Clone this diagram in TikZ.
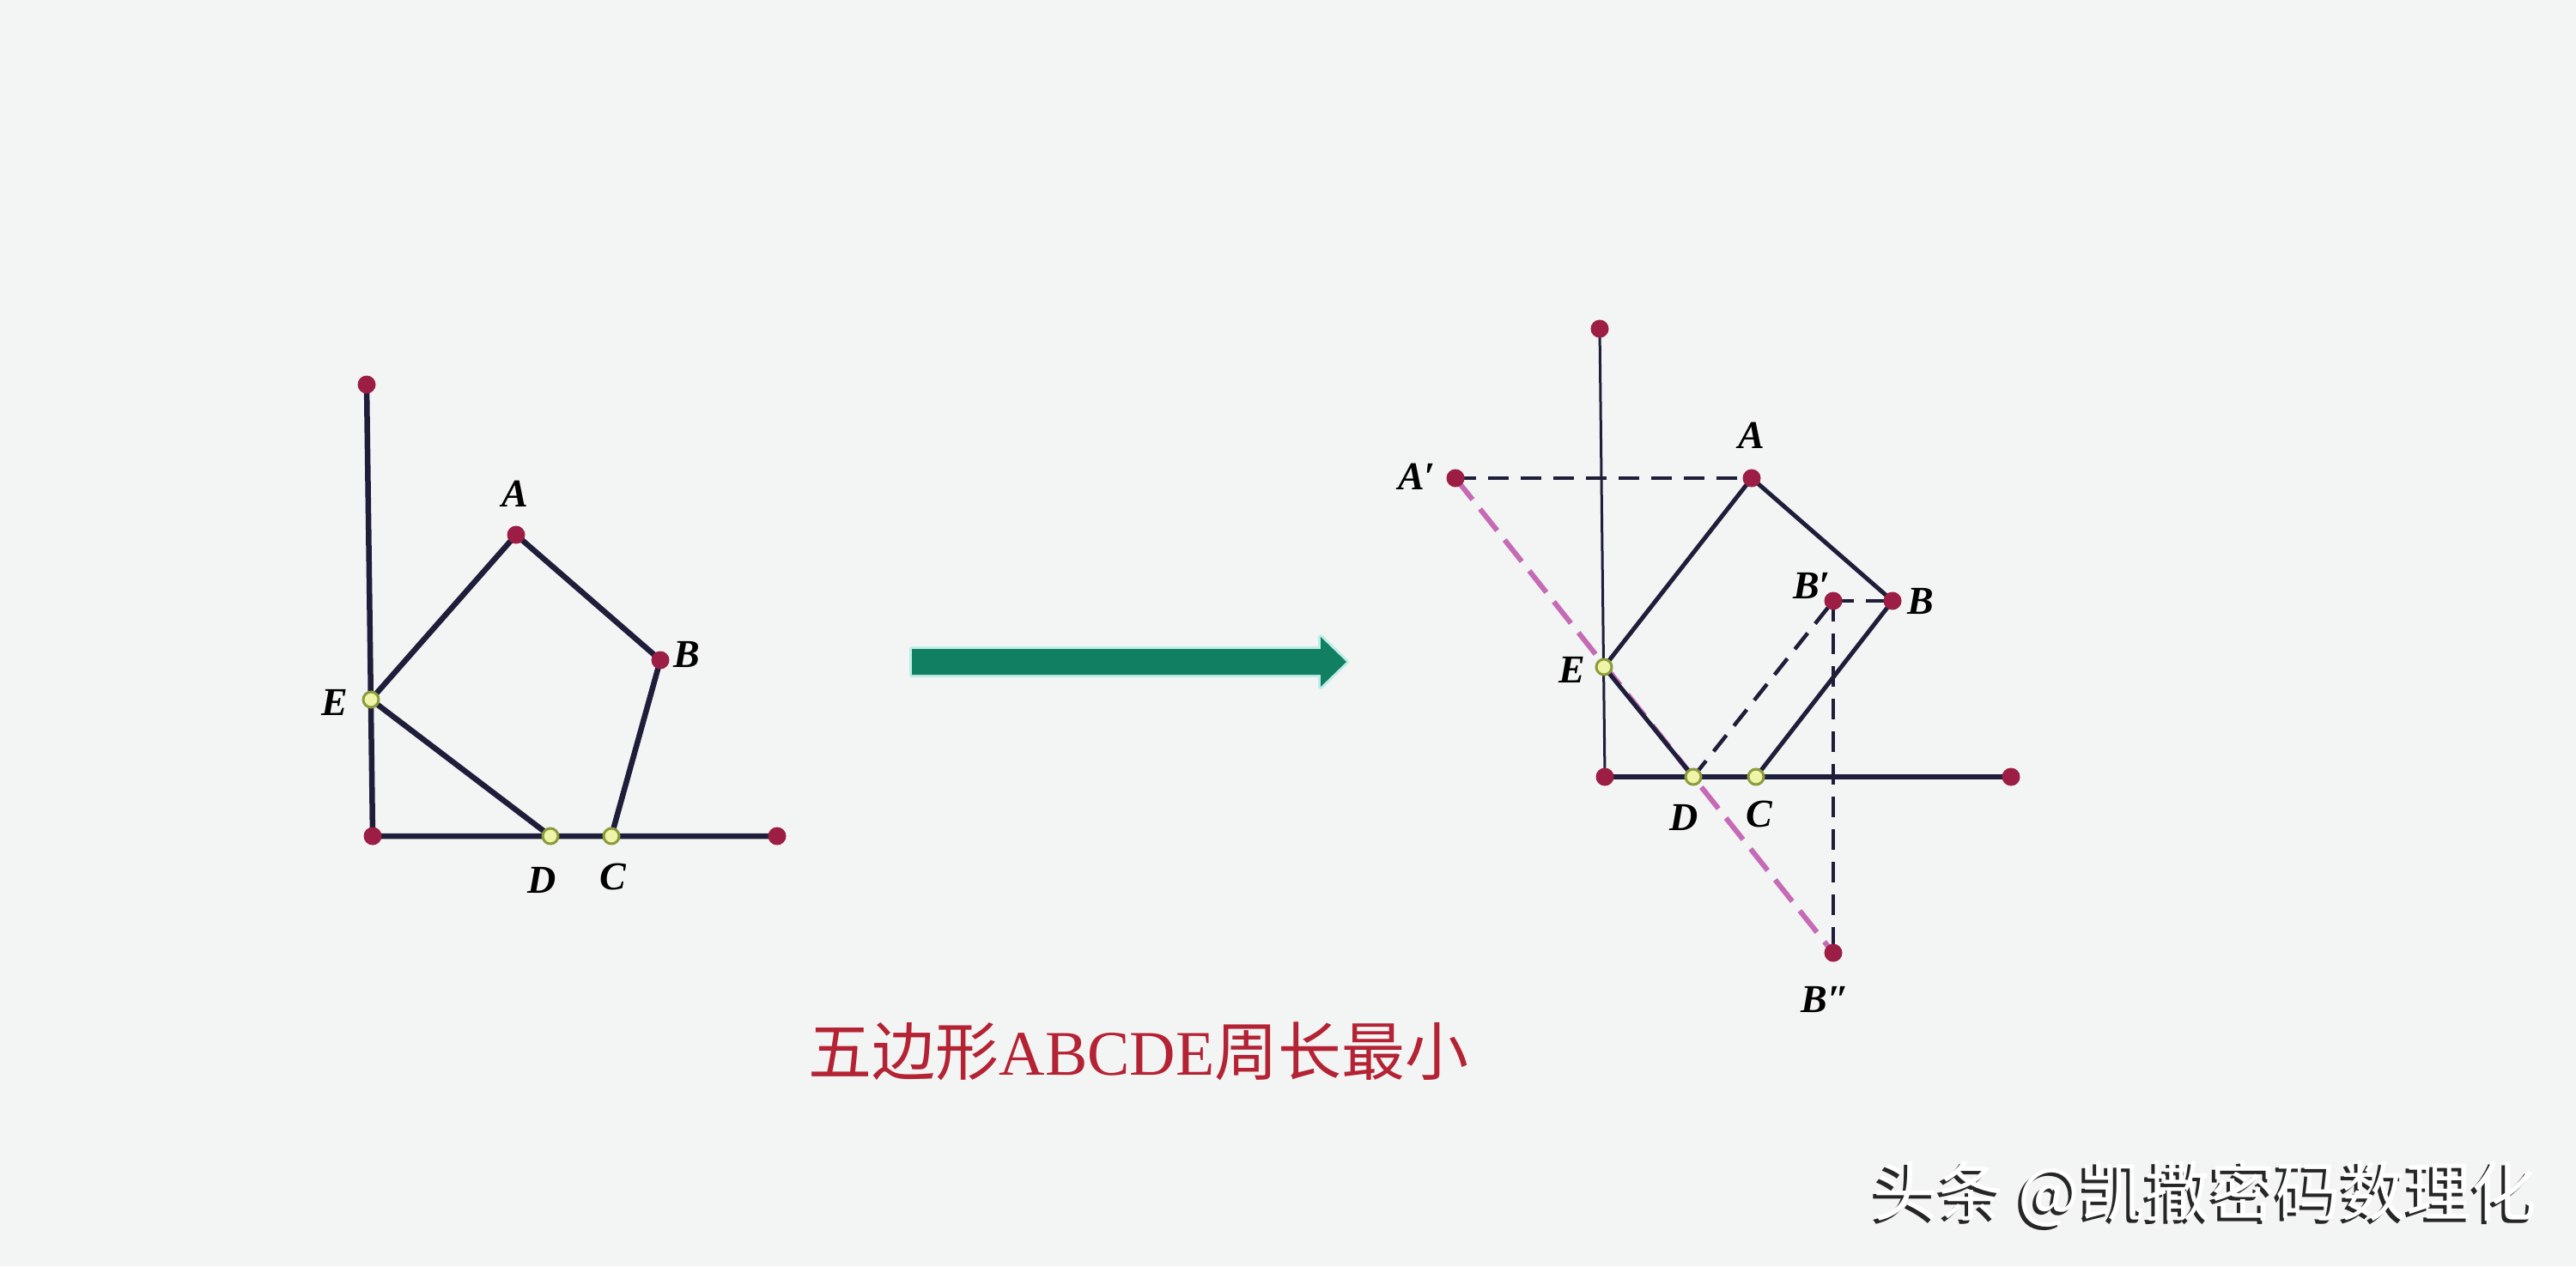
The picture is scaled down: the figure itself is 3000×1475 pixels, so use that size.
\documentclass[tikz,border=0pt]{standalone}
\usepackage{fontspec}
\setmainfont{Liberation Serif}
\newfontfamily\cjk{Noto Sans CJK SC}
\definecolor{bgC}{HTML}{F3F4F4}
\definecolor{lineC}{HTML}{1E1E3A}
\definecolor{redDot}{HTML}{9C1E44}
\definecolor{yelFill}{HTML}{EEF4A8}
\definecolor{yelEdge}{HTML}{8C9C3C}
\definecolor{pinkC}{HTML}{C56AB4}
\definecolor{arrowC}{HTML}{117F62}
\definecolor{glowC}{HTML}{BFEDE6}
\definecolor{capC}{HTML}{B42334}
\begin{document}
\begin{tikzpicture}[x=1pt,y=-1pt,
  thickln/.style={draw=lineC, line width=6.5pt, line cap=round},
  midln/.style={draw=lineC, line width=5pt, line cap=round},
  thinln/.style={draw=lineC, line width=3pt, line cap=round},
  dashln/.style={draw=lineC, line width=4.5pt, dash pattern=on 24pt off 14pt},
  pinkln/.style={draw=pinkC, line width=6pt, dash pattern=on 32pt off 14pt},
  reddot/.style={circle, fill=redDot, inner sep=0pt, minimum size=21pt},
  yeldot/.style={circle, fill=yelFill, draw=yelEdge, line width=3pt, inner sep=0pt, minimum size=18pt},
  lab/.style={font=\fontsize{46}{46}\selectfont\bfseries\itshape, text=black, inner sep=0pt}]
% background
\fill[bgC] (0,0) rectangle (3000,1475);
\useasboundingbox (0,0) rectangle (3000,1475);

% ---------- left figure ----------
\coordinate (lT) at (427,448);
\coordinate (lO) at (434,974);
\coordinate (lR) at (905,974);
\coordinate (lA) at (601,623);
\coordinate (lB) at (769,769);
\coordinate (lE) at (432,815);
\coordinate (lD) at (641,974);
\coordinate (lC) at (712,974);
\draw[thickln] (lT) -- (lO) -- (lR);
\draw[thickln] (lE) -- (lA) -- (lB) -- (lC);
\draw[thickln] (lE) -- (lD);
\node[reddot] (lTd) at (lT) {};
\node[reddot] (lOd) at (lO) {};
\node[reddot] (lRd) at (lR) {};
\node[reddot] (lAd) at (lA) {};
\node[reddot] (lBd) at (lB) {};
\node[yeldot] (lEd) at (lE) {};
\node[yeldot] (lDd) at (lD) {};
\node[yeldot] (lCd) at (lC) {};
\node[lab] (lAl) at (600,575) {A};
\node[lab] (lBl) at (800,762) {B};
\node[lab] (lEl) at (390,818) {E};
\node[lab] (lDl) at (631,1025) {D};
\node[lab] (lCl) at (714,1021) {C};

% ---------- arrow ----------
\coordinate (arS) at (1062,771);
\coordinate (arE) at (1568,771);
\draw[glowC, line width=6pt, line join=round, fill=arrowC]
  (1062,756) -- (1538,756) -- (1538,742) -- (arE) -- (1538,800) -- (1538,786) -- (1062,786) -- cycle;
\fill[arrowC]
  (1062,756) -- (1538,756) -- (1538,742) -- (arE) -- (1538,800) -- (1538,786) -- (1062,786) -- cycle;

% ---------- right figure ----------
\coordinate (rT) at (1863,383);
\coordinate (rO) at (1869,905);
\coordinate (rR) at (2342,905);
\coordinate (rA) at (2040,557);
\coordinate (rAp) at (1695,557);
\coordinate (rB) at (2204,700);
\coordinate (rBp) at (2135,700);
\coordinate (rBpp) at (2135,1110);
\coordinate (rE) at (1868,777);
\coordinate (rD) at (1972,905);
\coordinate (rC) at (2045,905);
\draw[pinkln] (rAp) -- (rBpp);
\draw[thinln] (rT) -- (rO);
\draw[draw=lineC, line width=6pt] (rO) -- (rR);
\draw[dashln] (rAp) -- (rA);
\draw[dashln] (rBp) -- (rB);
\draw[dashln] (rBp) -- (rBpp);
\draw[dashln] (rD) -- (rBp);
\draw[midln] (rE) -- (rA) -- (rB) -- (rC);
\draw[midln] (rE) -- (rD);
\node[reddot] (rTd) at (rT) {};
\node[reddot] (rOd) at (rO) {};
\node[reddot] (rRd) at (rR) {};
\node[reddot] (rAd) at (rA) {};
\node[reddot] (rApd) at (rAp) {};
\node[reddot] (rBd) at (rB) {};
\node[reddot] (rBpd) at (rBp) {};
\node[reddot] (rBppd) at (rBpp) {};
\node[yeldot] (rEd) at (rE) {};
\node[yeldot] (rDd) at (rD) {};
\node[yeldot] (rCd) at (rC) {};
\node[lab] (rAl) at (2040,507) {A};
\node[lab] (rApl) at (1650,555) {A′};
\node[lab] (rBl) at (2237,700) {B};
\node[lab] (rBpl) at (2110,682) {B′};
\node[lab] (rEl) at (1831,780) {E};
\node[lab] (rDl) at (1961,952) {D};
\node[lab] (rCl) at (2049,948) {C};
\node[lab] (rBppl) at (2126,1164) {B″};

% ---------- caption ----------
\node[text=capC, inner sep=0pt, font=\fontsize{74}{74}\selectfont] (cap) at (1326,1225)
  {{\cjk 五边形}ABCDE{\cjk 周长最小}};

% ---------- watermark ----------
\node[text=black!85, inner sep=0pt, font=\cjk\fontsize{76}{76}\selectfont] (wmS) at (2564,1395)
  {头条 @凯撒密码数理化};
\node[text=white, inner sep=0pt, font=\cjk\fontsize{76}{76}\selectfont] (wm) at (2568,1391)
  {头条 @凯撒密码数理化};
\end{tikzpicture}
\end{document}
